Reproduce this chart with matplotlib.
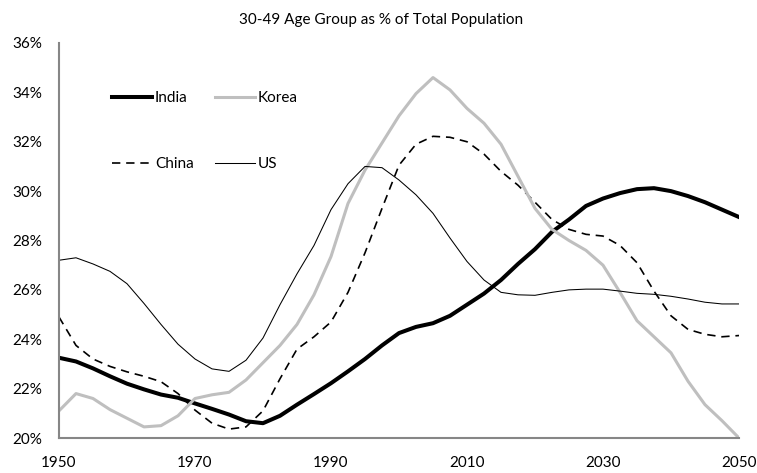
import matplotlib
matplotlib.use("Agg")
import matplotlib.pyplot as plt
from matplotlib.ticker import FuncFormatter

# years every 2.5 (% of total population)
years = [1950 + 2.5 * i for i in range(41)]

india = [23.25, 23.1, 22.82, 22.5, 22.2, 21.97, 21.76, 21.63, 21.4, 21.18,
         20.95, 20.68, 20.6, 20.9, 21.35, 21.78, 22.22, 22.7, 23.2, 23.75,
         24.25, 24.5, 24.65, 24.95, 25.4, 25.85, 26.4, 27.05, 27.65, 28.35,
         28.85, 29.4, 29.7, 29.92, 30.08, 30.12, 30.0, 29.8, 29.55, 29.25, 28.95]

korea = [21.1, 21.8, 21.6, 21.15, 20.8, 20.45, 20.5, 20.9, 21.6, 21.75,
         21.85, 22.35, 23.05, 23.75, 24.6, 25.8, 27.35, 29.5, 30.85, 31.95,
         33.05, 33.95, 34.6, 34.1, 33.35, 32.75, 31.9, 30.6, 29.3, 28.45,
         28.0, 27.6, 27.0, 25.9, 24.75, 24.1, 23.45, 22.3, 21.35, 20.7, 20.0]

china = [24.9, 23.75, 23.2, 22.9, 22.68, 22.5, 22.28, 21.8, 21.13, 20.6,
         20.36, 20.45, 21.1, 22.4, 23.6, 24.1, 24.7, 25.9, 27.5, 29.3,
         31.05, 31.9, 32.22, 32.18, 32.0, 31.5, 30.8, 30.24, 29.55, 28.85,
         28.45, 28.25, 28.18, 27.8, 27.1, 25.95, 24.95, 24.4, 24.2, 24.1, 24.15]

us = [27.2, 27.3, 27.05, 26.75, 26.25, 25.45, 24.6, 23.8, 23.2, 22.8,
      22.7, 23.15, 24.05, 25.4, 26.65, 27.8, 29.25, 30.3, 31.0, 30.95,
      30.45, 29.85, 29.1, 28.1, 27.15, 26.4, 25.9, 25.8, 25.78, 25.9,
      26.0, 26.03, 26.03, 25.95, 25.86, 25.82, 25.74, 25.63, 25.5, 25.43, 25.43]

xticks = [1950, 1970, 1990, 2010, 2030, 2050]
title = "30-49 Age Group as % of Total Population"

plt.rcParams['font.family'] = ['Lato', 'DejaVu Sans']
plt.rcParams['font.size'] = 11

fig = plt.figure(figsize=(7.57, 4.73), dpi=100)
ax = fig.add_axes([59 / 757, 1 - 438 / 473, 680 / 757, 395 / 473])

ax.plot(years, india, color='black', lw=2.9, label='India')
ax.plot(years, china, color='black', lw=1.2, ls=(0, (5, 3.5)), label='China')
ax.plot(years, korea, color='#bfbfbf', lw=2.2, label='Korea')
ax.plot(years, us, color='black', lw=0.75, label='US')

ax.set_xlim(1950, 2050)
ax.set_ylim(20, 36)
ax.set_xticks(xticks)
ax.set_yticks(range(20, 37, 2))
ax.yaxis.set_major_formatter(FuncFormatter(lambda v, p: '{:.0f}%'.format(v)))
ax.tick_params(length=0)
ax.tick_params(axis='y', pad=12)
ax.tick_params(axis='x', pad=13)

for s in ['top', 'right']:
  ax.spines[s].set_visible(False)
for s in ['left', 'bottom']:
  ax.spines[s].set_color('#868686')
  ax.spines[s].set_linewidth(1.5)

fig.text(381 / 757, 1 - 20 / 473, title, ha='center', va='center', fontsize=11)

ax.legend(loc='upper left', bbox_to_anchor=(112 / 757, 1 - 91 / 473),
          bbox_transform=fig.transFigure, ncol=2, frameon=False,
          borderpad=0, borderaxespad=0, handlelength=2.6, handletextpad=0.2,
          columnspacing=1.4, labelspacing=3.4)

fig.savefig('out.png', dpi=100)
